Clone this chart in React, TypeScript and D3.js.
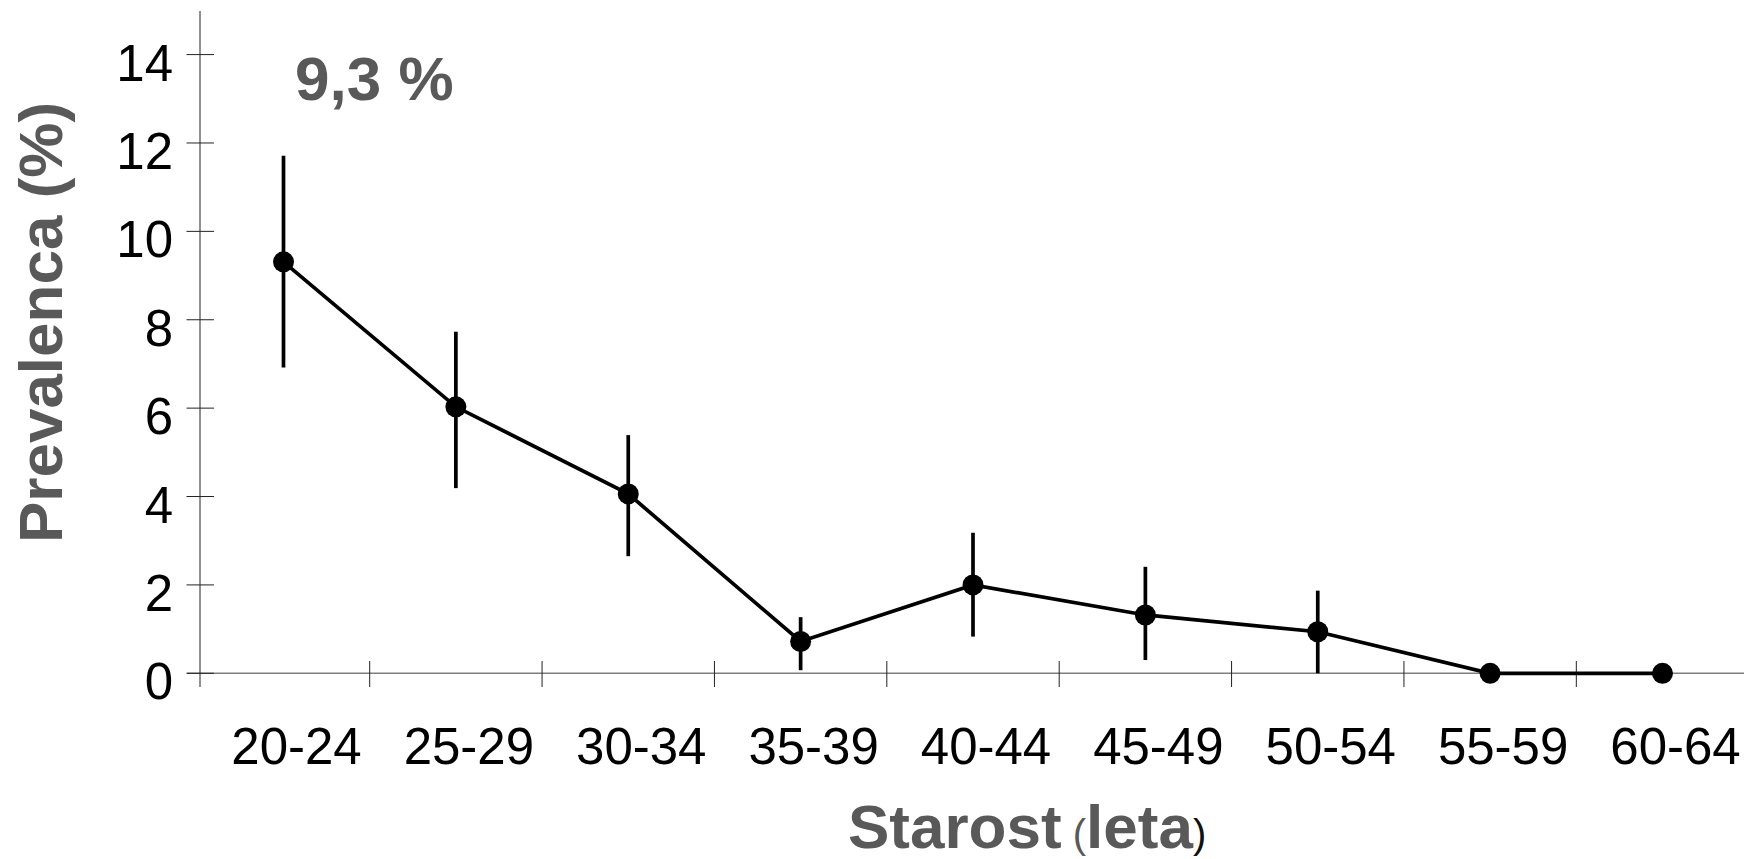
import React from "react";
import * as d3 from "d3";

const categories = ["20-24", "25-29", "30-34", "35-39", "40-44", "45-49", "50-54", "55-59", "60-64"];
const prevalence = [9.31, 6.03, 4.06, 0.72, 2.0, 1.32, 0.94, 0, 0];
const lowerCI: (number | null)[] = [6.92, 4.19, 2.65, 0.07, 0.83, 0.3, 0, null, null];
const upperCI: (number | null)[] = [11.71, 7.73, 5.39, 1.27, 3.18, 2.41, 1.87, null, null];
const yTicks = [0, 2, 4, 6, 8, 10, 12, 14];
const annotation = "9,3 %";

const W = 1744;
const H = 859;
const FONT = "'Liberation Sans', Arial, Helvetica, sans-serif";
const GRAY = "#595959";

export default function App() {
  const axisX = 200;
  const y = d3.scaleLinear().domain([0, 15]).range([673.3, 10.4]);
  const x = d3.scalePoint<string>().domain(categories).range([283.5, 1662.5]);
  const step = x.step();
  const tickXs = categories
    .map((c) => (x(c) as number) - step / 2)
    .slice(1)
    .concat([(x(categories[categories.length - 1]) as number) + step / 2]);

  const data = categories.map((c, i) => ({ c, v: prevalence[i], lo: lowerCI[i], hi: upperCI[i] }));
  const line = d3
    .line<{ c: string; v: number }>()
    .x((d) => x(d.c) as number)
    .y((d) => y(d.v));

  return (
    <svg
      width={W}
      height={H}
      style={{ position: "absolute", left: 0, top: 0, display: "block", background: "#fff" }}
      fontFamily={FONT}
    >
      <rect x={0} y={0} width={W} height={H} fill="#fff" />
      {/* x axis line */}
      <line x1={187} x2={W} y1={y(0)} y2={y(0)} stroke="#7f7f7f" strokeWidth={1.6} />
      {/* y axis line */}
      <line x1={axisX} x2={axisX} y1={11} y2={687} stroke="#222" strokeWidth={1} />
      {/* y ticks */}
      {yTicks.map((t) => (
        <g key={t}>
          <line x1={186.5} x2={214} y1={y(t)} y2={y(t)} stroke="#222" strokeWidth={1} />
          <text x={173} y={y(t) + 26} textAnchor="end" fontSize={51} fill="#000">
            {t}
          </text>
        </g>
      ))}
      {/* x ticks */}
      {tickXs.map((tx, i) => (
        <line key={i} x1={tx} x2={tx} y1={661} y2={687} stroke="#222" strokeWidth={1} />
      ))}
      {/* x tick labels */}
      {categories.map((c) => (
        <text key={c} x={(x(c) as number) + 13} y={764} textAnchor="middle" fontSize={51} fill="#000">
          {c}
        </text>
      ))}
      {/* error bars */}
      {data.map((d) =>
        d.lo !== null && d.hi !== null ? (
          <line
            key={"e" + d.c}
            x1={x(d.c) as number}
            x2={x(d.c) as number}
            y1={y(d.lo)}
            y2={y(d.hi)}
            stroke="#000"
            strokeWidth={3.7}
          />
        ) : null
      )}
      {/* line */}
      <path d={line(data) || ""} fill="none" stroke="#000" strokeWidth={3.7} />
      {/* points */}
      {data.map((d) => (
        <circle key={"p" + d.c} cx={x(d.c) as number} cy={y(d.v)} r={10.5} fill="#000" />
      ))}
      {/* annotation */}
      <text x={295} y={99.5} fontSize={62} fontWeight="bold" fill={GRAY}>
        {annotation}
      </text>
      {/* y title */}
      <text
        transform="translate(61.7,322.5) rotate(-90)"
        textAnchor="middle"
        fontSize={62}
        fontWeight="bold"
        fill={GRAY}
      >
        Prevalenca (%)
      </text>
      {/* x title */}
      <text x={848} y={848} fontSize={62} fill={GRAY}>
        <tspan fontWeight="bold">Starost</tspan>
        <tspan fontSize={40}> (</tspan>
        <tspan fontWeight="bold">leta</tspan>
        <tspan fontSize={40} fill="#111">)</tspan>
      </text>
    </svg>
  );
}
